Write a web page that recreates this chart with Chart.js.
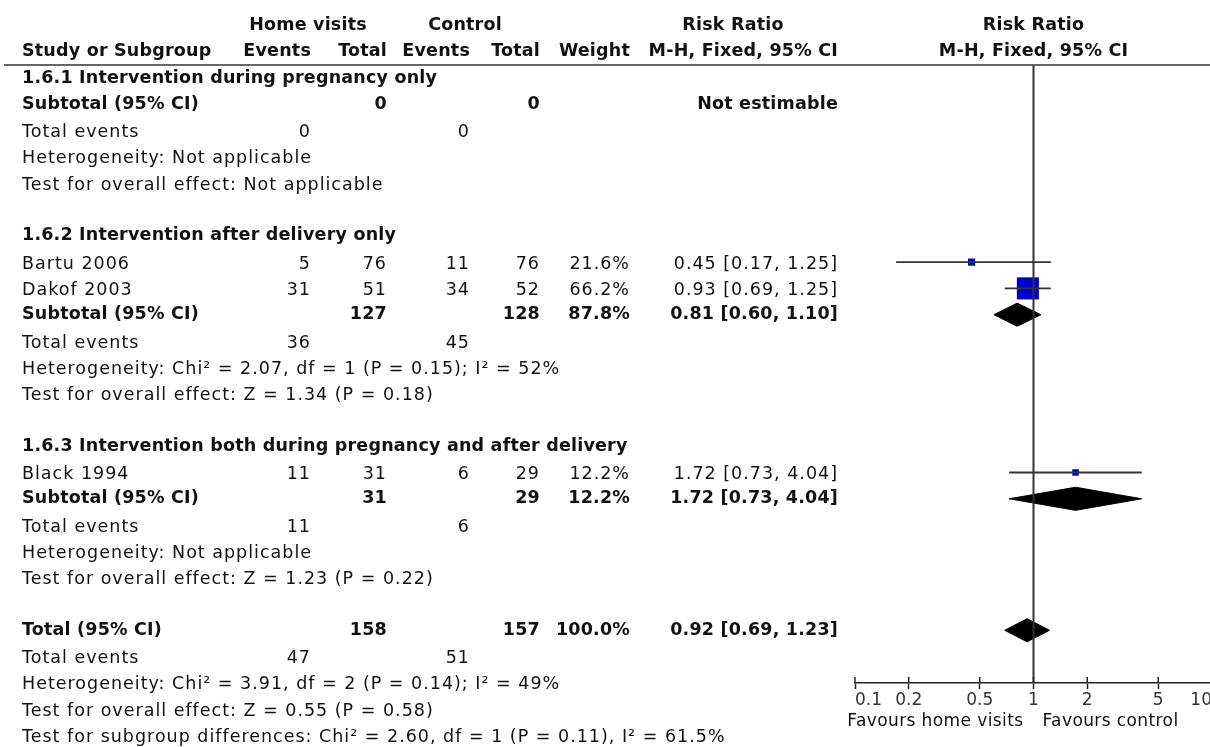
<!DOCTYPE html>
<html>
<head>
<meta charset="utf-8">
<script src="https://cdn.jsdelivr.net/npm/chart.js@4"></script>
<style>
  html, body { margin: 0; padding: 0; background: #fff; overflow: hidden; }
  #wrap { width: 1210px; height: 747px; overflow: hidden; }
</style>
</head>
<body>
<div id="wrap"><canvas id="forest" width="1212" height="747"></canvas></div>
<script>
// studies
const studies = ['Bartu 2006', 'Dakof 2003', 'Black 1994'];
const studyGroup = [1, 1, 2];
const homeEvents = [5, 31, 11];
const homeTotal = [76, 51, 31];
const ctrlEvents = [11, 34, 6];
const ctrlTotal = [76, 52, 29];
const weights = [21.6, 66.2, 12.2];
const rr = [0.45, 0.93, 1.72];
const rrLow = [0.17, 0.69, 0.73];
const rrHigh = [1.25, 1.25, 4.04];

// subgroups
const groupTitles = [
  '1.6.1 Intervention during pregnancy only',
  '1.6.2 Intervention after delivery only',
  '1.6.3 Intervention both during pregnancy and after delivery'
];
const groupHomeTotal = [0, 127, 31];
const groupCtrlTotal = [0, 128, 29];
const groupHomeEvents = [0, 36, 11];
const groupCtrlEvents = [0, 45, 6];
const groupWeight = [null, 87.8, 12.2];
const groupRR = [null, 0.81, 1.72];
const groupLow = [null, 0.60, 0.73];
const groupHigh = [null, 1.10, 4.04];
const groupHetero = [
  'Heterogeneity: Not applicable',
  'Heterogeneity: Chi² = 2.07, df = 1 (P = 0.15); I² = 52%',
  'Heterogeneity: Not applicable'
];
const groupEffect = [
  'Test for overall effect: Not applicable',
  'Test for overall effect: Z = 1.34 (P = 0.18)',
  'Test for overall effect: Z = 1.23 (P = 0.22)'
];

// overall
const totalCounts = [158, 157];
const totalEvents = [47, 51];
const totalWeight = 100.0;
const totalRR = [0.92, 0.69, 1.23];
const totalNotes = [
  'Heterogeneity: Chi² = 3.91, df = 2 (P = 0.14); I² = 49%',
  'Test for overall effect: Z = 0.55 (P = 0.58)',
  'Test for subgroup differences: Chi² = 2.60, df = 1 (P = 0.11), I² = 61.5%'
];

const axisTicks = [0.1, 0.2, 0.5, 1, 2, 5, 10];
const axisLabels = ['0.1', '0.2', '0.5', '1', '2', '5', '10'];
const favourLabels = ['Favours home visits', 'Favours control'];

const FONT = '"DejaVu Sans", sans-serif';
const colRight = [311, 387, 470, 540, 630, 838];
const pct = v => v.toFixed(1) + '%';
const ci = (m, l, h) => `${m.toFixed(2)} [${l.toFixed(2)}, ${h.toFixed(2)}]`;

// lay out the table rows
const rows = [];
const studyRow = [];
const subtotalRow = [];
let r = 0;
groupTitles.forEach((title, g) => {
  rows.push({ row: r++, bold: true, cells: [title] });
  studies.forEach((name, i) => {
    if (studyGroup[i] !== g) return;
    studyRow[i] = r;
    rows.push({ row: r++, bold: false, cells: [name, homeEvents[i], homeTotal[i], ctrlEvents[i], ctrlTotal[i], pct(weights[i]), ci(rr[i], rrLow[i], rrHigh[i])] });
  });
  subtotalRow[g] = r;
  rows.push({ row: r++, bold: true, cells: ['Subtotal (95% CI)', '', groupHomeTotal[g], '', groupCtrlTotal[g],
    groupWeight[g] == null ? '' : pct(groupWeight[g]),
    groupRR[g] == null ? 'Not estimable' : ci(groupRR[g], groupLow[g], groupHigh[g])] });
  rows.push({ row: r++, bold: false, cells: ['Total events', groupHomeEvents[g], '', groupCtrlEvents[g]] });
  rows.push({ row: r++, bold: false, cells: [groupHetero[g]] });
  rows.push({ row: r++, bold: false, cells: [groupEffect[g]] });
  r++;
});
const totalRow = r;
rows.push({ row: r++, bold: true, cells: ['Total (95% CI)', '', totalCounts[0], '', totalCounts[1], pct(totalWeight), ci(totalRR[0], totalRR[1], totalRR[2])] });
rows.push({ row: r++, bold: false, cells: ['Total events', totalEvents[0], '', totalEvents[1]] });
totalNotes.forEach(n => rows.push({ row: r++, bold: false, cells: [n] }));

const Y_MIN = -0.494, Y_MAX = 23.004;
const DIAMOND_H = 0.44;

function diamond(m, l, h, y) {
  return {
    type: 'line',
    data: [{ x: l, y: y }, { x: m, y: y - DIAMOND_H }, { x: h, y: y }, { x: m, y: y + DIAMOND_H }, { x: l, y: y }],
    borderColor: '#000', backgroundColor: '#000', borderWidth: 1,
    pointRadius: 0, fill: 'shape', tension: 0
  };
}

const datasets = [];
// line of no effect
datasets.push({
  type: 'line', data: [{ x: 1, y: Y_MIN }, { x: 1, y: Y_MAX }],
  borderColor: '#333', borderWidth: 2, pointRadius: 0
});
// confidence intervals
studies.forEach((s, i) => {
  datasets.push({
    type: 'line', data: [{ x: rrLow[i], y: studyRow[i] }, { x: rrHigh[i], y: studyRow[i] }],
    borderColor: '#333', borderWidth: 1.8, pointRadius: 0
  });
});
// point estimates, box side grows with weight
datasets.push({
  type: 'scatter',
  data: studies.map((s, i) => ({ x: rr[i], y: studyRow[i] })),
  pointStyle: 'rect',
  pointRadius: ctx => Math.max(6.5, weights[ctx.dataIndex] / 3) / Math.SQRT2,
  backgroundColor: '#0000cc', borderColor: '#0000cc', borderWidth: 0
});
groupRR.forEach((m, g) => {
  if (m == null) return;
  datasets.push(diamond(m, groupLow[g], groupHigh[g], subtotalRow[g]));
});
datasets.push(diamond(totalRR[0], totalRR[1], totalRR[2], totalRow));

const tablePlugin = {
  id: 'table',
  afterDraw(chart) {
    const ctx = chart.ctx;
    const y = chart.scales.y;
    const x = chart.scales.x;
    ctx.save();
    // tick marks also reach a little above the axis line
    ctx.strokeStyle = '#222';
    ctx.lineWidth = 1.5;
    x.ticks.forEach(t => {
      const px = x.getPixelForValue(t.value);
      ctx.beginPath();
      ctx.moveTo(px, chart.chartArea.bottom - 6);
      ctx.lineTo(px, chart.chartArea.bottom);
      ctx.stroke();
    });
    ctx.fillStyle = '#111';
    ctx.textBaseline = 'middle';
    const put = (s, px, py, align, bold) => {
      ctx.font = (bold ? 'bold ' : '') + '17.5px ' + FONT;
      ctx.letterSpacing = bold ? '0.2px' : '1px';
      ctx.textAlign = align;
      ctx.fillText(String(s), px, py);
    };
    // headers
    put('Home visits', 308, 25, 'center', true);
    put('Control', 465, 25, 'center', true);
    put('Risk Ratio', 733, 25, 'center', true);
    put('Risk Ratio', x.getPixelForValue(1), 25, 'center', true);
    put('Study or Subgroup', 22, 51, 'left', true);
    ['Events', 'Total', 'Events', 'Total', 'Weight', 'M-H, Fixed, 95% CI'].forEach((h, k) => put(h, colRight[k], 51, 'right', true));
    put('M-H, Fixed, 95% CI', x.getPixelForValue(1), 51, 'center', true);
    // rule under header
    ctx.strokeStyle = '#333';
    ctx.lineWidth = 1.5;
    ctx.beginPath();
    ctx.moveTo(4, 65);
    ctx.lineTo(chart.width, 65);
    ctx.stroke();
    // body
    rows.forEach(row => {
      const py = y.getPixelForValue(row.row) + (row.bold ? 0 : 2);
      row.cells.forEach((c, k) => {
        if (c === '' || c == null) return;
        if (k === 0) put(c, 22, py, 'left', row.bold);
        else put(c, colRight[k - 1], py, 'right', row.bold);
      });
    });
    // favours labels
    const one = x.getPixelForValue(1);
    ctx.font = '17px ' + FONT;
    ctx.letterSpacing = '0.4px';
    ctx.textAlign = 'right';
    ctx.fillText(favourLabels[0], one - 10, 722);
    ctx.textAlign = 'left';
    ctx.fillText(favourLabels[1], one + 9, 722);
    ctx.restore();
  }
};

new Chart(document.getElementById('forest'), {
  type: 'scatter',
  data: { datasets },
  options: {
    responsive: false,
    animation: false,
    devicePixelRatio: 1,
    layout: { autoPadding: false, padding: { left: 855, top: 65, right: 0, bottom: 0 } },
    plugins: { legend: { display: false }, tooltip: { enabled: false } },
    scales: {
      x: {
        type: 'logarithmic', min: 0.1, max: 10, position: 'bottom',
        afterBuildTicks: s => { s.ticks = axisTicks.map(v => ({ value: v })); },
        afterFit: s => { s.height = 747 - 683; s.paddingLeft = 0; s.paddingRight = 0; },
        grid: { drawOnChartArea: false, drawTicks: true, tickLength: 6, tickColor: '#222', tickWidth: 1.5 },
        border: { display: true, color: '#222', width: 1.5 },
        ticks: {
          align: 'inner', autoSkip: false, maxRotation: 0, padding: 1,
          color: '#333', font: { family: FONT, size: 17 },
          callback: (v, i) => axisLabels[i]
        }
      },
      y: { type: 'linear', display: false, min: Y_MIN, max: Y_MAX, reverse: true }
    }
  },
  plugins: [tablePlugin]
});
</script>
</body>
</html>
